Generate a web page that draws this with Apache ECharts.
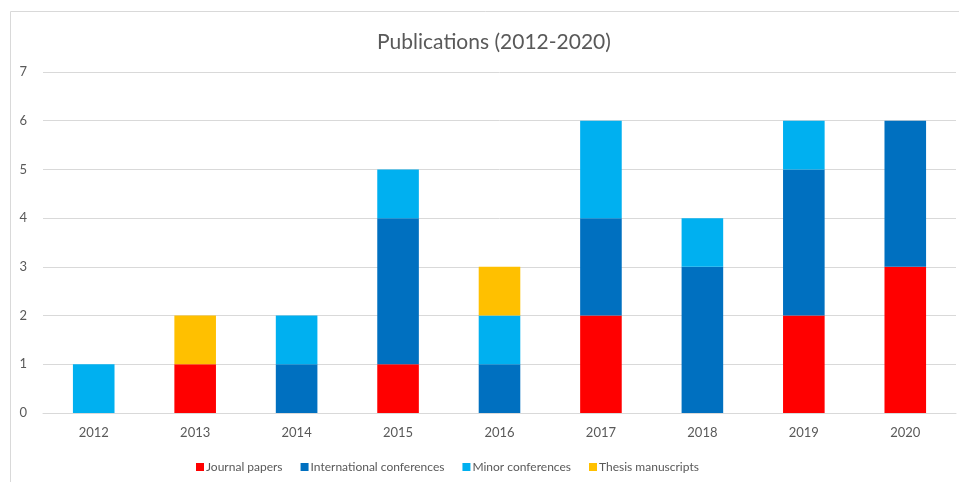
<!DOCTYPE html>
<html>
<head>
<meta charset="utf-8">
<script src="https://cdn.jsdelivr.net/npm/echarts@6/dist/echarts.min.js"></script>
<style>
  html, body { margin: 0; padding: 0; background: #fff; }
  #chart { width: 959px; height: 482px; }
</style>
</head>
<body>
<div id="chart"></div>
<script>
const years = ["2012", "2013", "2014", "2015", "2016", "2017", "2018", "2019", "2020"];
const journalPapers = [0, 1, 0, 1, 0, 2, 0, 2, 3];
const intlConferences = [0, 0, 1, 3, 1, 2, 3, 3, 3];
const minorConferences = [1, 0, 1, 1, 1, 2, 1, 1, 0];
const thesisManuscripts = [0, 1, 0, 0, 1, 0, 0, 0, 0];

const font = "Lato, 'Liberation Sans', sans-serif";
const chart = echarts.init(document.getElementById("chart"));

function bar(name, data, color) {
  return {
    name: name,
    type: "bar",
    stack: "total",
    data: data.map((v) => (v === 0 ? null : v)),
    barWidth: "41%",
    itemStyle: { color: color },
  };
}

chart.setOption({
  animation: false,
  textStyle: { fontFamily: font },
  title: {
    text: "Publications (2012-2020)",
    left: 489,
    textAlign: "center",
    top: 27,
    textStyle: { fontSize: 21, fontWeight: "normal", color: "#595959", fontFamily: font },
  },
  graphic: [
    {
      type: "rect",
      shape: { x: 10.5, y: 11.5, width: 1000, height: 600 },
      style: { fill: "none", stroke: "#d9d9d9", lineWidth: 1 },
      silent: true,
    },
  ],
  legend: {
    left: 191,
    top: 456,
    itemWidth: 8,
    itemHeight: 8,
    itemGap: 18,
    icon: "rect",
    textStyle: { fontSize: 12, color: "#595959", padding: [0, 0, 0, -3] },
    data: ["Journal papers", "International conferences", "Minor conferences", "Thesis manuscripts"],
  },
  grid: { left: 43, right: 3, top: 72, bottom: 69, containLabel: false },
  xAxis: {
    type: "category",
    data: years,
    axisLine: { lineStyle: { color: "#d9d9d9" } },
    axisTick: { show: false },
    axisLabel: { color: "#595959", fontSize: 13, margin: 13 },
  },
  yAxis: {
    type: "value",
    min: 0,
    max: 7,
    interval: 1,
    axisLine: { show: false },
    axisTick: { show: false },
    splitLine: { lineStyle: { color: "#d9d9d9" } },
    axisLabel: { color: "#595959", fontSize: 13, margin: 16, align: "right" },
  },
  series: [
    bar("Journal papers", journalPapers, "#ff0000"),
    bar("International conferences", intlConferences, "#0070c0"),
    bar("Minor conferences", minorConferences, "#00b0f0"),
    bar("Thesis manuscripts", thesisManuscripts, "#ffc000"),
  ],
});
</script>
</body>
</html>
